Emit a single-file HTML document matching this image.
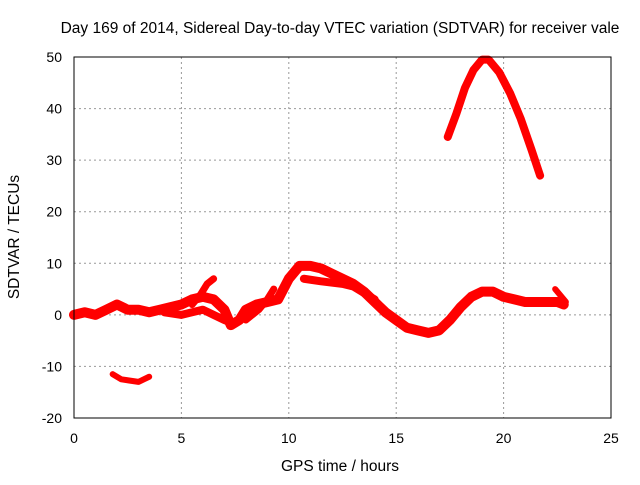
<!DOCTYPE html>
<html><head><meta charset="utf-8"><style>
body{margin:0;background:#fff}
svg text{font-family:"Liberation Sans",sans-serif;font-size:14px;fill:#000}
svg text.t{font-size:15.5px}
</style></head><body>
<svg id="c" width="640" height="480" xmlns="http://www.w3.org/2000/svg">
<text class="t" x="340" y="33" text-anchor="middle">Day 169 of 2014, Sidereal Day-to-day VTEC variation (SDTVAR) for receiver vale</text>
<text class="t" x="340" y="471" text-anchor="middle">GPS time / hours</text>
<text class="t" transform="translate(19,237) rotate(-90)" text-anchor="middle">SDTVAR / TECUs</text>
<g id="grid"></g><g id="ticks"></g><g id="data"></g>
<rect x="74" y="57" width="537" height="361" fill="none" stroke="#000" stroke-width="1"/>
</svg>
<script>
const xTicks=[0,5,10,15,20,25];
const yTicks=[-20,-10,0,10,20,30,40,50];
const mainX=[0,0.5,1,1.5,2,2.5,3,3.5,4,4.5,5,5.5,6,6.5,7,7.3,7.7,8,8.5,9,9.5,10,10.5,11,11.5,12,12.5,13,13.5,14,14.5,15,15.5,16,16.5,17,17.5,18,18.5,19,19.5,20,20.5,21,21.5,22,22.5,22.8];
const mainY=[0,0.5,0,1,2,1,1,0.5,1,1.5,2,3,3.5,3,1,-2,-1,1,2,2.5,3,7,9.5,9.5,9,8,7,6,4.5,2.5,0.5,-1,-2.5,-3,-3.5,-3,-1,1.5,3.5,4.5,4.5,3.5,3,2.5,2.5,2.5,2.5,2];
const strand1X=[4.2,5,5.5,6,6.5,7,7.3];
const strand1Y=[0.5,0,0.5,1,0,-1,-1.5];
const spikeX=[5.5,5.9,6.2,6.5];
const spikeY=[2,4,6,7];
const strand2X=[8,8.6,9,9.3];
const strand2Y=[-1,1,3,5];
const strand3X=[10.7,11.5,12.5,13,14];
const strand3Y=[7,6.5,6,5.5,3];
const lowX=[1.8,2.2,3,3.5];
const lowY=[-11.5,-12.5,-13,-12];
const arcX=[17.4,17.8,18.2,18.6,19,19.3,19.8,20.3,20.8,21.3,21.7];
const arcY=[34.5,39,44,47.5,49.5,49.5,47,43,38,32,27];
const endX=[22.4,22.9];
const endY=[5,2.5];
const X=h=>74+h*537/25, Y=v=>418-(v+20)*361/70;
const NS="http://www.w3.org/2000/svg";
function mk(t,a,p){const e=document.createElementNS(NS,t);for(const k in a)e.setAttribute(k,a[k]);p.appendChild(e);return e;}
const g=document.getElementById('grid'),tk=document.getElementById('ticks'),d=document.getElementById('data');
xTicks.forEach(v=>{
 if(v>0&&v<25){const l=mk('line',{x1:X(v),x2:X(v),y1:57,y2:418,stroke:'#999','stroke-dasharray':'2,3'},g);
 
 }
 const t=mk('text',{x:X(v),y:443,'text-anchor':'middle'},tk);t.textContent=v;
 
 
});
yTicks.forEach(v=>{
 if(v>-20&&v<50){const l=mk('line',{x1:74,x2:611,y1:Y(v),y2:Y(v),stroke:'#999','stroke-dasharray':'2,3'},g);
 
 }
 const t=mk('text',{x:62,y:Y(v)+5,'text-anchor':'end'},tk);t.textContent=v;
 
 
});
[[mainX,mainY,10],[strand1X,strand1Y,8],[spikeX,spikeY,7],[strand2X,strand2Y,7],[strand3X,strand3Y,8],[lowX,lowY,6],[arcX,arcY,8],[endX,endY,6]].forEach(([xs,ys,w])=>{
 const pts=xs.map((x,i)=>X(x)+','+Y(ys[i])).join(' ');
 const p=mk('polyline',{points:pts,fill:'none',stroke:'#f00','stroke-width':w,'stroke-linejoin':'round','stroke-linecap':'round'},d);
 
 
});
</script>
</body></html>
